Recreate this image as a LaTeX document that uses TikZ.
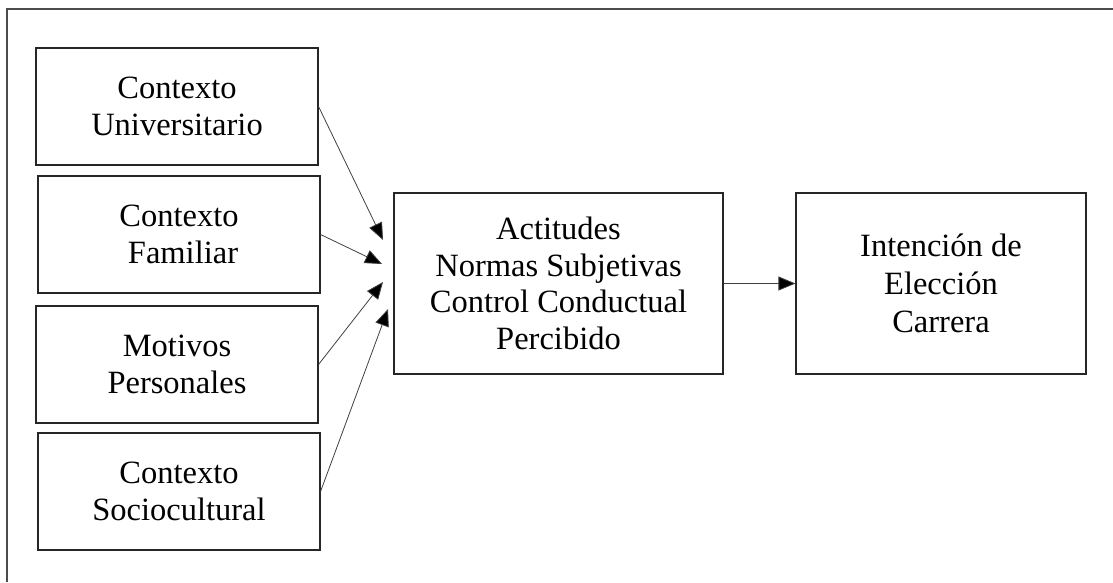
\documentclass[tikz,border=0pt]{standalone}
\usepackage{fontspec}
\setmainfont{Liberation Serif}
\usetikzlibrary{arrows.meta}
\begin{document}
\begin{tikzpicture}[x=1pt,y=-1pt,
  box/.style={draw=black!85,line width=1.1pt,inner sep=0pt,align=center,
    font=\fontsize{32.5}{36.5}\selectfont},
  conn/.style={draw=black!75,line width=0.8pt,-{Triangle[length=17pt,width=14pt,fill=black]}},
  frameline/.style={draw=black!70,line width=1.5pt}]
\useasboundingbox (0,0) rectangle (1113,582);
\draw[frameline] (7,582) -- (7,9) -- (1113,9);
\node[box,minimum width=282pt,minimum height=117pt] (b1) at (177,106.5) {Contexto\\Universitario};
\node[box,minimum width=282pt,minimum height=117pt] (b2) at (179,234.5) {Contexto\\\hspace*{8pt}Familiar};
\node[box,minimum width=282pt,minimum height=117pt] (b3) at (177,364.5) {Motivos\\Personales};
\node[box,minimum width=282pt,minimum height=117pt] (b4) at (179,491.5) {Contexto\\Sociocultural};
\node[box,minimum width=329pt,minimum height=181pt] (c) at (558.5,283.5) {Actitudes\\Normas Subjetivas\\Control Conductual\\Percibido};
\node[box,minimum width=290pt,minimum height=181pt,font=\fontsize{32.5}{38}\selectfont] (r) at (941,283.5) {Intención de\\Elección\\Carrera};
\coordinate (t1) at (383,240);
\coordinate (t2) at (382,264);
\coordinate (t3) at (383,282);
\coordinate (t4) at (388,309);
\draw[conn] (b1.east) -- (t1);
\draw[conn] (b2.east) -- (t2);
\draw[conn] (b3.east) -- (t3);
\draw[conn] (b4.east) -- (t4);
\draw[conn] (c.east) -- (r.west);
\end{tikzpicture}
\end{document}
